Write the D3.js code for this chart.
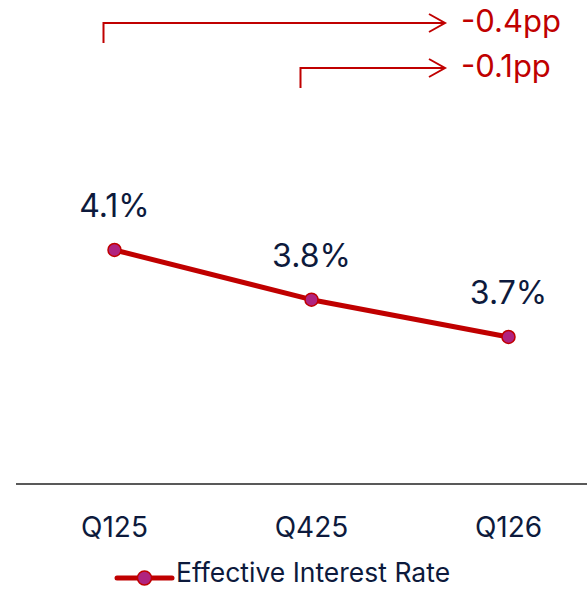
<!DOCTYPE html>
<html>
<head>
<meta charset="utf-8">
<script src="https://cdn.jsdelivr.net/npm/d3@7/dist/d3.min.js"></script>
<style>
  html, body { margin: 0; padding: 0; background: #ffffff; }
  svg { display: block; font-family: Inter, "Noto Sans", sans-serif; }
</style>
</head>
<body>
<svg id="chart" width="587" height="589"></svg>
<script>
// Quarterly effective interest rate (%)
const categories = ["Q125", "Q425", "Q126"];
const rateValues = [4.08, 3.84, 3.66];
const seriesName = "Effective Interest Rate";

// Change call-outs: from a quarter to the latest quarter
const changeFrom = ["Q125", "Q425"];
const changeTo = "Q126";
const changeLabels = ["-0.4pp", "-0.1pp"];

const RED = "#c00000";
const MARKER = "#b0237f";
const INK = "#0d1a3c";
const AXIS = "#595959";

const svg = d3.select("#chart");
const W = 587;

const x = d3.scaleBand().domain(categories).range([16, 607]).padding(0);
const cx = c => x(c) + x.bandwidth() / 2;
const y = d3.scaleLinear().domain([2.95, 5.2]).range([484, 18]);

const data = categories.map((c, i) => ({ c, v: rateValues[i] }));
const fmt = d3.format(".1f");

// Baseline axis with category labels
const xAxis = d3.axisBottom(x).tickSize(0).tickPadding(0);
const gx = svg.append("g").attr("transform", "translate(0,484)").call(xAxis);
gx.select(".domain").remove();
gx.selectAll(".tick text")
  .attr("y", 53)
  .attr("dy", 0)
  .attr("fill", INK)
  .style("font-size", "28px")
  .style("font-family", "Inter, 'Noto Sans', sans-serif");
svg.append("line")
  .attr("x1", 16).attr("x2", W)
  .attr("y1", 484).attr("y2", 484)
  .attr("stroke", AXIS).attr("stroke-width", 2);

// Series line
const line = d3.line().x(d => cx(d.c)).y(d => y(d.v));
svg.append("path")
  .datum(data)
  .attr("d", line)
  .attr("fill", "none")
  .attr("stroke", RED)
  .attr("stroke-width", 5)
  .attr("stroke-linejoin", "round");

// Markers
svg.append("g").selectAll("circle")
  .data(data).join("circle")
  .attr("cx", d => cx(d.c))
  .attr("cy", d => y(d.v))
  .attr("r", 6.5)
  .attr("fill", MARKER)
  .attr("stroke", RED)
  .attr("stroke-width", 1.5);

// Value labels
svg.append("g").selectAll("text")
  .data(data).join("text")
  .attr("x", d => cx(d.c))
  .attr("y", d => y(d.v) - 33)
  .attr("text-anchor", "middle")
  .attr("fill", INK)
  .style("font-size", "32px")
  .text(d => fmt(d.v) + "%");

// Change call-outs: elbow connector with open arrowhead
const arrowTipX = 445;
const bracketY = [23, 68];
const ann = svg.append("g");
changeFrom.forEach((c, i) => {
  const x0 = cx(c) - 11;
  const yy = bracketY[i];
  ann.append("path")
    .attr("d", `M${x0},${yy + 20}V${yy}H${arrowTipX}`)
    .attr("fill", "none")
    .attr("stroke", RED)
    .attr("stroke-width", 2);
  ann.append("path")
    .attr("d", `M${arrowTipX - 16},${yy - 9}L${arrowTipX},${yy}L${arrowTipX - 16},${yy + 9}`)
    .attr("fill", "none")
    .attr("stroke", RED)
    .attr("stroke-width", 2);
  ann.append("text")
    .attr("x", arrowTipX + 16)
    .attr("y", yy + 9)
    .attr("fill", RED)
    .style("font-size", "31px")
    .text(changeLabels[i]);
});

// Legend
const lg = svg.append("g").attr("transform", "translate(0,578)");
lg.append("line")
  .attr("x1", 117).attr("x2", 172)
  .attr("y1", 0).attr("y2", 0)
  .attr("stroke", RED).attr("stroke-width", 5)
  .attr("stroke-linecap", "round");
lg.append("circle")
  .attr("cx", 144.5).attr("cy", 0).attr("r", 7)
  .attr("fill", MARKER).attr("stroke", RED).attr("stroke-width", 1.5);
lg.append("text")
  .attr("x", 176).attr("y", 4)
  .attr("fill", INK)
  .style("font-size", "26.5px")
  .text(seriesName);
</script>
</body>
</html>
